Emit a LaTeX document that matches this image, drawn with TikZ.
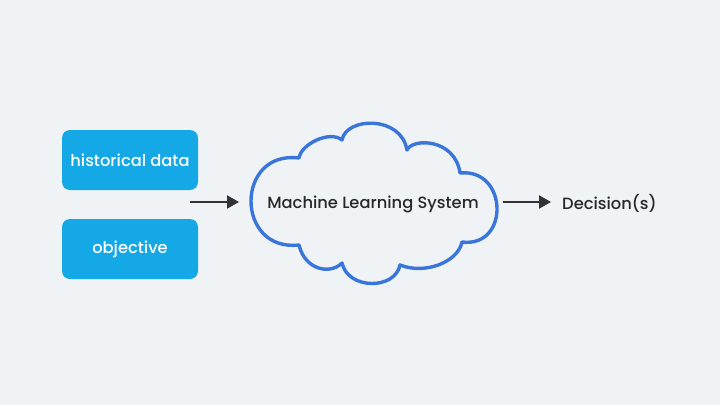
\documentclass[tikz,border=0pt]{standalone}
\usepackage{fontspec}
\setmainfont{Poppins}[UprightFont={* Medium}]
\usetikzlibrary{arrows.meta}
\definecolor{bg}{RGB}{240,243,245}
\definecolor{boxblue}{RGB}{20,168,230}
\definecolor{cloudblue}{RGB}{58,118,218}
\definecolor{ink}{RGB}{40,40,42}
\definecolor{arrowgray}{RGB}{51,51,51}
\tikzset{
  inbox/.style={fill=boxblue, rounded corners=8pt, minimum width=136pt, minimum height=60pt,
    text=white, font=\fontsize{16.3}{19}\selectfont, inner sep=0pt},
  flow/.style={draw=arrowgray, line width=2pt, -{Triangle[length=12pt,width=13pt]}},
  cloudline/.style={draw=cloudblue, line width=3.4pt, line join=round},
  label/.style={text=ink, font=\fontsize{16.3}{19}\selectfont, inner sep=0pt}
}
\begin{document}
\begin{tikzpicture}[x=1pt,y=-1pt]
\useasboundingbox (0,0) rectangle (720,405);
\fill[bg] (0,0) rectangle (720,405);
\node[inbox] (hist) at (130,160) {historical data};
\node[inbox] (obj) at (130,249) {objective};
% cloud
\path[cloudline] (299,158) .. controls (301,144) and (330,130) .. (342,140)
  .. controls (346,117) and (401,115) .. (407,150)
  .. controls (412,138) and (455,138) .. (460,173)
  .. controls (508,168) and (510,248) .. (462,242)
  .. controls (458,262) and (425,275) .. (400,265)
  .. controls (395,290) and (348,290) .. (342,263)
  .. controls (330,275) and (305,270) .. (299,245)
  .. controls (235,252) and (235,150) .. cycle;
\node[label] (ml) at (373,204) {Machine Learning System};
\node[label, anchor=west] (dec) at (562,203) {Decision(s)};
\coordinate (in1) at (190,202);
\coordinate (in2) at (239,202);
\coordinate (out1) at (503,202);
\coordinate (out2) at (551,202);
\draw[flow] (in1) -- (in2);
\draw[flow] (out1) -- (out2);
\end{tikzpicture}
\end{document}
